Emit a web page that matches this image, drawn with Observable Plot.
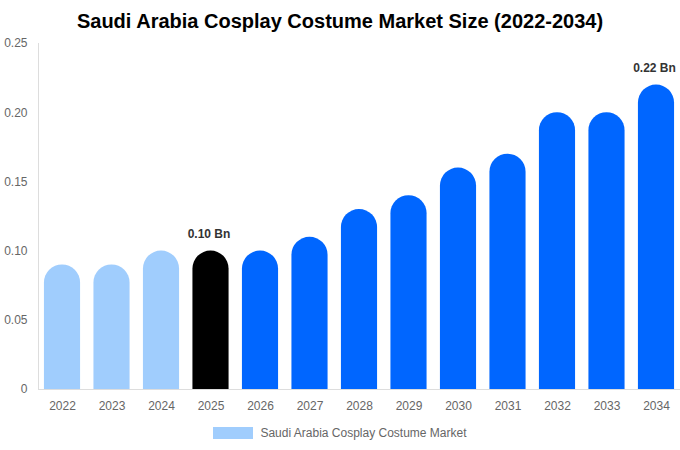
<!DOCTYPE html>
<html>
<head>
<meta charset="utf-8">
<script src="https://cdn.jsdelivr.net/npm/d3@7"></script>
<script src="https://cdn.jsdelivr.net/npm/@observablehq/plot@0.6"></script>
<style>
  html, body { margin: 0; padding: 0; background: #fff; }
  body { width: 680px; height: 450px; font-family: "Liberation Sans", Arial, sans-serif; }
  #title { height: 35px; line-height: 42px; text-align: center; font-size: 20px; font-weight: bold; color: #000; }
  #legend { display: flex; justify-content: center; align-items: center; gap: 7px; font-size: 12px; color: #666; margin-top: 6px; }
  #legend .sw { width: 40px; height: 12px; background: #a0cdfd; }
  svg { display: block; }
</style>
</head>
<body>
<div id="title">Saudi Arabia Cosplay Costume Market Size (2022-2034)</div>
<div id="chart"></div>
<div id="legend"><span class="sw"></span><span>Saudi Arabia Cosplay Costume Market</span></div>
<script>
const years = ["2022","2023","2024","2025","2026","2027","2028","2029","2030","2031","2032","2033","2034"];
const values = [0.09, 0.09, 0.10, 0.10, 0.10, 0.11, 0.13, 0.14, 0.16, 0.17, 0.20, 0.20, 0.22];
const kinds = ["hist","hist","hist","base","fc","fc","fc","fc","fc","fc","fc","fc","fc"];
const yTicks = [0, 0.05, 0.10, 0.15, 0.20, 0.25];
const labelYears = ["2025", "2034"];

const colorOf = {hist: "#a0cdfd", base: "#000000", fc: "#0066ff"};
const data = years.map((y, i) => ({year: y, value: values[i], kind: kinds[i]}));
const labels = data.filter(d => labelYears.includes(d.year));

const chart = Plot.plot({
  width: 680,
  height: 385,
  marginTop: 8,
  marginBottom: 31,
  marginLeft: 38,
  marginRight: 0,
  style: {fontFamily: "Liberation Sans, Arial, sans-serif", fontSize: "12px", color: "#666", background: "#fff"},
  x: {domain: years, paddingInner: 0.27, paddingOuter: 0.12, round: false, label: null, tickSize: 0, tickPadding: 12},
  y: {domain: [0, 0.25], ticks: yTicks, tickFormat: d => d === 0 ? "0" : d.toFixed(2), label: null, tickSize: 0, tickPadding: 11},
  marks: [
    Plot.barY(data, {x: "year", y: "value", fill: d => colorOf[d.kind], rx: 18, ry: 18, insetBottom: -24, clip: true}),
    Plot.ruleY([0], {stroke: "#ddd"}),
    Plot.axisY({ticks: yTicks, tickFormat: d => d === 0 ? "0" : d.toFixed(2), tickSize: 0, tickPadding: 11, fill: "#666", label: null}),
    Plot.text(labels, {x: "year", y: "value", text: d => d.value.toFixed(2) + " Bn", dy: -17, dx: -2, fontWeight: "bold", fill: "#333", fontSize: 12})
  ]
});
// y-axis line
const svg = d3.select(chart);
svg.append("line").attr("x1", 38.5).attr("x2", 38.5).attr("y1", 8).attr("y2", 385 - 31).attr("stroke", "#ddd");
document.getElementById("chart").appendChild(chart);
</script>
</body>
</html>
